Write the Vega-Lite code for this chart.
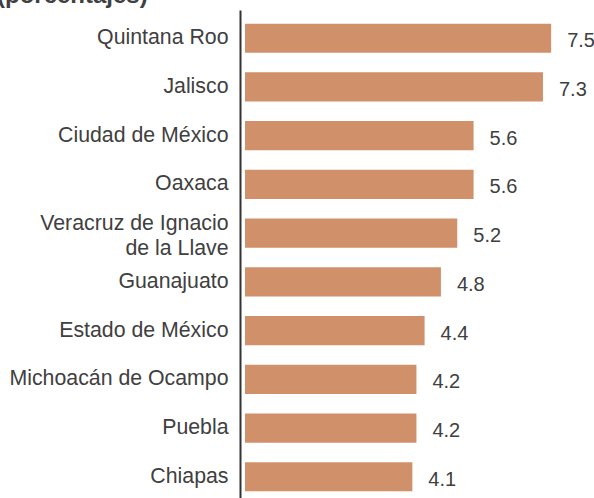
{
  "$schema": "https://vega.github.io/schema/vega-lite/v6.json",
  "autosize": {"type": "none"},
  "width": 349,
  "height": 495,
  "padding": {"left": 245, "top": 10, "right": 0, "bottom": 0},
  "background": "white",
  "title": {
    "text": "(porcentajes)",
    "anchor": "start",
    "frame": "group",
    "orient": "top",
    "offset": -10,
    "baseline": "alphabetic",
    "dx": -248,
    "dy": 6.5,
    "font": "Liberation Sans",
    "fontSize": 24,
    "fontWeight": "bold",
    "color": "#404040"
  },
  "config": {
    "view": {"stroke": null},
    "font": "Liberation Sans"
  },
  "data": {
    "values": [
      {"entidad": "Quintana Roo", "valor": 7.5},
      {"entidad": "Jalisco", "valor": 7.3},
      {"entidad": "Ciudad de México", "valor": 5.6},
      {"entidad": "Oaxaca", "valor": 5.6},
      {"entidad": "Veracruz de Ignacio|de la Llave", "valor": 5.2},
      {"entidad": "Guanajuato", "valor": 4.8},
      {"entidad": "Estado de México", "valor": 4.4},
      {"entidad": "Michoacán de Ocampo", "valor": 4.2},
      {"entidad": "Puebla", "valor": 4.2},
      {"entidad": "Chiapas", "valor": 4.1}
    ]
  },
  "encoding": {
    "y": {
      "field": "entidad",
      "type": "nominal",
      "sort": null,
      "scale": {"paddingInner": 0.4, "paddingOuter": 0.28},
      "axis": {
        "title": null,
        "ticks": false,
        "tickSize": 0,
        "offset": 5,
        "domain": true,
        "domainColor": "#333333",
        "domainWidth": 2,
        "labelPadding": 12,
        "labelFontSize": 21.3,
        "labelColor": "#404040",
        "labelFont": "Liberation Sans",
        "labelLimit": 300,
        "labelLineHeight": 25,
        "labelOffset": {"condition": {"test": "indexof(datum.value, '|') >= 0", "value": -9}, "value": 0},
        "labelExpr": "split(datum.label, '|')"
      }
    },
    "x": {
      "field": "valor",
      "type": "quantitative",
      "scale": {"domain": [0, 8.55], "nice": false},
      "axis": null
    }
  },
  "layer": [
    {"mark": {"type": "bar", "color": "#D0916A"}},
    {
      "mark": {
        "type": "text",
        "align": "left",
        "baseline": "middle",
        "dx": 16,
        "dy": 3,
        "fontSize": 20,
        "color": "#404040",
        "font": "Liberation Sans"
      },
      "encoding": {"text": {"field": "valor", "type": "quantitative", "format": ".1f"}}
    }
  ]
}
